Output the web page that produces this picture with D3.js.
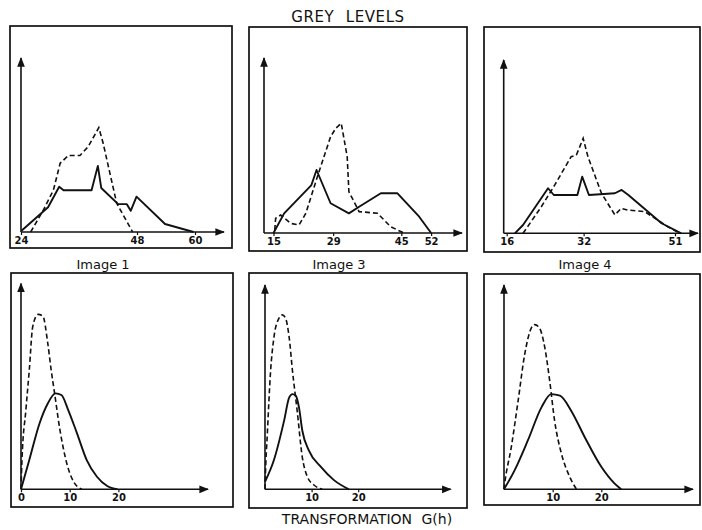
<!DOCTYPE html>
<html>
<head>
<meta charset="utf-8">
<script src="https://cdn.jsdelivr.net/npm/d3@7"></script>
<style>
  body { margin: 0; background: #fff; }
  svg { display: block; }
  text { font-family: "DejaVu Sans", sans-serif; fill: #111; }
  .tick text { font-size: 10px; font-weight: bold; }
</style>
</head>
<body>
<svg id="chart" width="702" height="530"></svg>
<script>
// grey level histograms: [grey level, frequency]
const img1Solid = [[24.1,0.7],[29.6,14.2],[31.9,26],[32.8,24],[38.6,24],[39.9,38],[40.6,25.3],[44.1,16],[45.9,16],[46.7,12.2],[47.9,20.3],[53.8,4.6],[59.7,0]];
const img1Dash  = [[26,0],[28.6,12.5],[30.7,24],[32.1,39.5],[33.8,44],[36.2,44],[37.9,49],[40.1,60],[41,51],[42.4,33.7],[43.8,16.5],[47.1,0]];
const img3Solid = [[15,0],[17.5,11.2],[23.9,27.4],[25.1,36],[28.4,17],[32.7,11.2],[35.1,15],[40.2,22.7],[44.1,22.7],[49.2,9.3],[52,0]];
const img3Dash  = [[15.3,1.7],[15.5,8.4],[16.7,10.3],[19,5.5],[21,4.6],[22.6,11.3],[25.3,32.2],[28.4,55],[29.6,59.8],[30.9,62.7],[32.3,43.6],[32.7,23.6],[35.1,12.2],[39.4,11.3],[42.5,3.6],[45.6,0]];
const img4Solid = [[17.7,0],[19.4,4.8],[24.6,26],[25.8,22.1],[30.7,22.1],[31.7,32.7],[33.1,22.1],[38.5,23.1],[39.9,25],[41.3,22.1],[48.2,5.8],[52.3,0]];
const img4Dash  = [[19.4,0],[23.2,15.3],[26,27.9],[29.4,44.2],[30.5,45.2],[31.9,54.8],[32.9,44.2],[35.7,23.1],[38.5,10.6],[39.8,14.4],[41.2,13.4],[44.7,12.5],[49.5,3.8],[52,0]];

// transformation G(h)
const g1Solid = [[0,0],[1.7,14.2],[3.8,32],[5.5,41.7],[7.1,46.6],[8.3,45.8],[9.7,38.5],[11.5,27.2],[13.5,14.2],[15.6,6.1],[17.7,1.6],[19.8,0]];
const g1Dash  = [[0,0],[0.2,14.2],[1,38.5],[1.7,57.9],[2.4,78.9],[3.5,85],[4.5,84.1],[5.5,70.9],[6.2,57.9],[6.9,46.6],[8,28.8],[9.4,12.6],[10.8,3.7],[12.5,0]];
const g3Solid = [[0,3.7],[1.9,14.2],[4.1,33.6],[5.2,45],[5.9,46.6],[6.6,45.8],[7.3,40],[8,28.8],[9.4,19.1],[12,11],[14.8,4.5],[18,0]];
const g3Dash  = [[0,0],[0.1,7.8],[0.5,27.2],[1.2,57.9],[1.9,74.1],[3,83.8],[3.7,85.4],[4.4,83.8],[5.2,74.1],[5.9,57.9],[6.9,38.5],[8,15.8],[9.1,6.1],[10.5,2.1],[12.3,0]];
const g4Solid = [[0,0],[2.2,9.4],[4.9,23.9],[7.7,40.1],[9.7,46.6],[11.5,45.8],[13.8,38.5],[16.6,25.5],[20,11],[22.7,2.9],[24.1,0]];
const g4Dash  = [[0,0],[0.15,2.9],[1.5,20.7],[2.9,43.3],[4.25,66],[5.6,78.9],[6.3,80.6],[7.3,78.9],[8.4,69.2],[9.4,53],[10.4,33.6],[11.8,17.5],[13.5,6.1],[14.9,0]];

const greyTicks = [[24, 48, 60], [15, 29, 45, 52], [16, 32, 51]];
const transTicks = [[0, 10, 20], [10, 20], [10, 20]];
const imageNames = ["Image 1", "Image 3", "Image 4"];

const svg = d3.select("#chart");

svg.append("defs").append("marker")
  .attr("id", "arrow")
  .attr("viewBox", "0 0 10 10")
  .attr("refX", 9).attr("refY", 5)
  .attr("markerWidth", 6).attr("markerHeight", 6)
  .attr("orient", "auto")
  .append("path")
  .attr("d", "M0,1 L10,5 L0,9 Z")
  .attr("fill", "#111");

// panel boxes and axis frames
const boxes = [
  { x: 10, y: 26, w: 222, h: 222 }, { x: 249, y: 27, w: 218, h: 224 }, { x: 484, y: 27, w: 216, h: 225 },
  { x: 11, y: 273, w: 222, h: 234 }, { x: 249, y: 273, w: 218, h: 235 }, { x: 484, y: 274, w: 216, h: 231 }
];
const frames = [
  { x0: 21, x1: 224, y0: 232, y1: 58, dom: [24, 66] },
  { x0: 264, x1: 462, y0: 233, y1: 58, dom: [12.77, 59.25] },
  { x0: 503.7, x1: 698, y0: 233.3, y1: 60, dom: [15.38, 55.78] },
  { x0: 21, x1: 208, y0: 489.3, y1: 283.5, dom: [0, 38.4] },
  { x0: 265, x1: 450.7, y0: 489.3, y1: 285, dom: [0, 39.85] },
  { x0: 504, x1: 693, y0: 489.3, y1: 285, dom: [0, 38.85] }
];

const panels = [
  { solid: img1Solid, dash: img1Dash, ticks: greyTicks[0], smooth: false },
  { solid: img3Solid, dash: img3Dash, ticks: greyTicks[1], smooth: false },
  { solid: img4Solid, dash: img4Dash, ticks: greyTicks[2], smooth: false },
  { solid: g1Solid, dash: g1Dash, ticks: transTicks[0], smooth: true },
  { solid: g3Solid, dash: g3Dash, ticks: transTicks[1], smooth: true },
  { solid: g4Solid, dash: g4Dash, ticks: transTicks[2], smooth: true }
];

panels.forEach((p, i) => {
  const b = boxes[i], f = frames[i];

  svg.append("rect")
    .attr("x", b.x).attr("y", b.y)
    .attr("width", b.w).attr("height", b.h)
    .attr("fill", "none")
    .attr("stroke", "#111")
    .attr("stroke-width", 1.7);

  const x = d3.scaleLinear().domain(f.dom).range([f.x0, f.x1]);
  const y = d3.scaleLinear().domain([0, 100]).range([f.y0, f.y1]);

  // x axis ticks and labels
  const ax = svg.append("g")
    .attr("transform", `translate(0,${f.y0})`)
    .call(d3.axisBottom(x).tickValues(p.ticks).tickSize(3).tickPadding(2).tickFormat(d3.format("d")));
  ax.select(".domain").remove();
  ax.selectAll(".tick line").attr("stroke", "#111").attr("stroke-width", 1.2);

  // axis lines with arrows
  svg.append("line")
    .attr("x1", x(f.dom[0])).attr("x2", x(f.dom[1]))
    .attr("y1", y(0)).attr("y2", y(0))
    .attr("stroke", "#111").attr("stroke-width", 1.6)
    .attr("marker-end", "url(#arrow)");
  svg.append("line")
    .attr("x1", x(f.dom[0])).attr("x2", x(f.dom[0]))
    .attr("y1", y(0)).attr("y2", y(100))
    .attr("stroke", "#111").attr("stroke-width", 1.6)
    .attr("marker-end", "url(#arrow)");

  const line = d3.line()
    .x(d => x(d[0]))
    .y(d => y(d[1]))
    .curve(p.smooth ? d3.curveMonotoneX : d3.curveLinear);

  svg.append("path")
    .datum(p.dash)
    .attr("fill", "none")
    .attr("stroke", "#111")
    .attr("stroke-width", 1.6)
    .attr("stroke-dasharray", "5,3")
    .attr("d", line);

  svg.append("path")
    .datum(p.solid)
    .attr("fill", "none")
    .attr("stroke", "#111")
    .attr("stroke-width", 1.9)
    .attr("stroke-linejoin", "round")
    .attr("d", line);
});

// image labels between the rows
const labelX = [103, 339, 585];
imageNames.forEach((name, i) => {
  svg.append("text")
    .attr("x", labelX[i]).attr("y", 269)
    .attr("text-anchor", "middle")
    .attr("font-size", 13)
    .text(name);
});

svg.append("text")
  .attr("x", 348).attr("y", 22)
  .attr("text-anchor", "middle")
  .attr("font-size", 15)
  .attr("letter-spacing", 0.6)
  .attr("word-spacing", 6)
  .text("GREY LEVELS");

svg.append("text")
  .attr("x", 367).attr("y", 524)
  .attr("text-anchor", "middle")
  .attr("font-size", 14)
  .attr("word-spacing", 5)
  .text("TRANSFORMATION G(h)");
</script>
</body>
</html>
